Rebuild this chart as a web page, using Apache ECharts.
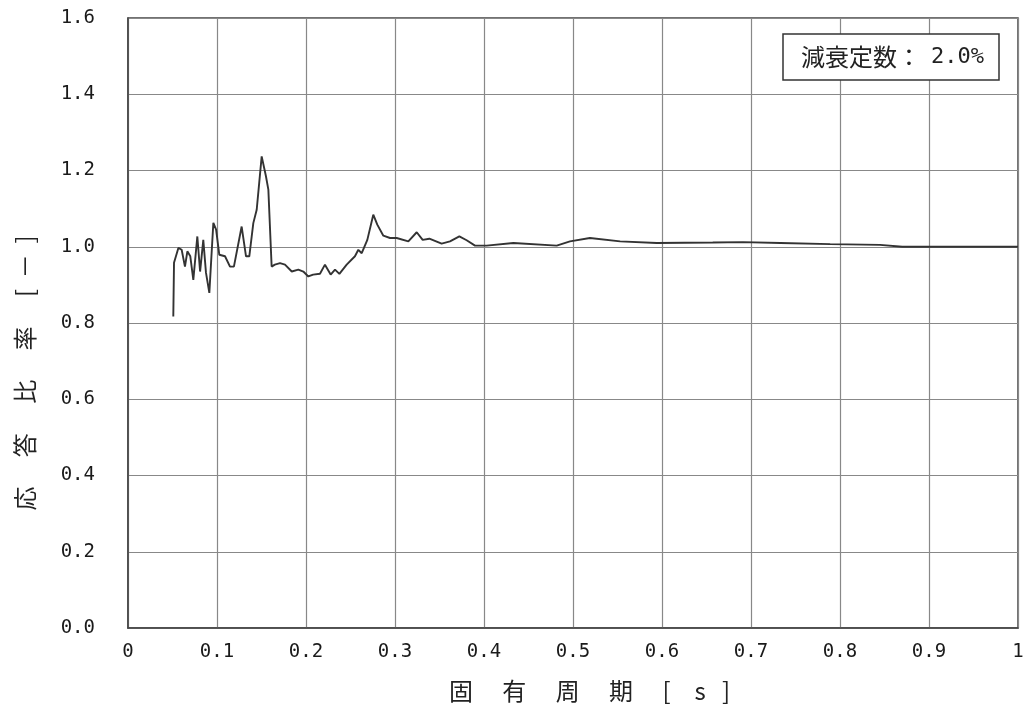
<!DOCTYPE html>
<html><head><meta charset="utf-8">
<script src="https://cdn.jsdelivr.net/npm/echarts@6/dist/echarts.min.js"></script>
<style>html,body{margin:0;padding:0;background:#fff;}#c{width:1031px;height:709px;}</style>
</head><body><div id="c"></div>
<script>
const periods = [0.0509,0.0517,0.0566,0.0603,0.064,0.0667,0.0700,0.0734,0.0779,0.081,0.0846,0.0876,0.0914,0.0959,0.099,0.1026,0.109,0.1146,0.119,0.1277,0.1326,0.1363,0.1408,0.1446,0.1502,0.155,0.1577,0.1614,0.165,0.1708,0.1764,0.184,0.1914,0.197,0.2026,0.208,0.2157,0.2213,0.2277,0.2326,0.2375,0.2457,0.255,0.2588,0.2626,0.2689,0.2756,0.2801,0.2869,0.2944,0.3019,0.315,0.3244,0.3311,0.3386,0.3524,0.3618,0.3723,0.3805,0.3899,0.403,0.433,0.4817,0.4966,0.519,0.553,0.594,0.657,0.691,0.733,0.789,0.845,0.87,1.0];
const ratios = [0.817,0.958,0.997,0.992,0.948,0.988,0.975,0.913,1.027,0.935,1.018,0.932,0.879,1.063,1.045,0.979,0.975,0.948,0.948,1.053,0.975,0.975,1.062,1.097,1.237,1.185,1.150,0.948,0.953,0.957,0.953,0.935,0.940,0.935,0.922,0.927,0.929,0.953,0.927,0.940,0.929,0.953,0.975,0.992,0.983,1.018,1.084,1.058,1.029,1.023,1.023,1.014,1.038,1.018,1.021,1.008,1.014,1.027,1.017,1.003,1.003,1.010,1.003,1.014,1.023,1.014,1.010,1.011,1.012,1.010,1.007,1.005,1.0,1.0];
const xTitle = '固　 有　 周　 期　 [　s   ]';
const yTitle = '応　 答　 比　 率　 [  －  ]';
const dampingLabel = '減衰定数';
const dampingValue = '2.0%';

const chart = echarts.init(document.getElementById('c'));
const labelFont = {fontFamily:'DejaVu Sans Mono', fontSize:19, color:'#1a1a1a'};
chart.setOption({
  animation:false,
  backgroundColor:'#fff',
  grid:{left:128,right:13,top:18,bottom:81,show:true,borderColor:'#444',borderWidth:1.5},
  title:{
    text:'{a|'+dampingLabel+'}{b|：}{c|'+dampingValue+'}', left:783, top:32,
    padding:[11,15,11,18],
    borderColor:'#333', borderWidth:1.5, backgroundColor:'#fff',
    textStyle:{
      fontWeight:'normal',
      rich:{
        a:{fontFamily:'Noto Sans CJK JP', fontSize:24, fontWeight:'normal', color:'#222', lineHeight:28},
        b:{fontFamily:'Noto Sans CJK JP', fontSize:24, fontWeight:'normal', color:'#222', lineHeight:28},
        c:{fontFamily:'DejaVu Sans Mono', fontSize:22, fontWeight:'normal', color:'#222', lineHeight:28, padding:[0,0,0,10]}
      }
    }
  },
  xAxis:{
    type:'value', min:0, max:1, interval:0.1,
    name:xTitle, nameLocation:'middle', nameGap:51,
    nameTextStyle:{fontFamily:'Noto Sans CJK JP', fontSize:24, color:'#222', padding:[0,0,0,33]},
    axisLine:{lineStyle:{color:'#444',width:1.5}},
    axisTick:{show:false},
    axisLabel:Object.assign({margin:15},labelFont),
    splitLine:{show:true,lineStyle:{color:'#888',width:1.2}}
  },
  yAxis:{
    type:'value', min:0, max:1.6, interval:0.2,
    name:yTitle, nameLocation:'middle', nameGap:91, nameRotate:90,
    nameTextStyle:{fontFamily:'Noto Sans CJK JP', fontSize:24, color:'#222', padding:[0,100,0,0]},
    axisLine:{show:true,lineStyle:{color:'#444',width:1.5}},
    axisTick:{show:false},
    axisLabel:Object.assign({margin:33,formatter:v=>v.toFixed(1)},labelFont),
    splitLine:{show:true,lineStyle:{color:'#888',width:1.2}}
  },
  series:[{
    type:'line', showSymbol:false, symbol:'none',
    data:periods.map((p,i)=>[p,ratios[i]]),
    lineStyle:{color:'#333',width:1.9}
  }]
});
</script></body></html>
